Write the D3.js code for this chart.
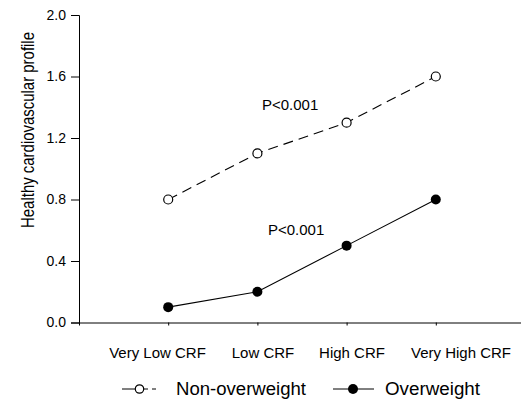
<!DOCTYPE html>
<html>
<head>
<meta charset="utf-8">
<script src="https://cdn.jsdelivr.net/npm/d3@7"></script>
<style>
  body { margin: 0; background: #fff; }
  text { font-family: "Liberation Sans", Arial, sans-serif; fill: #000; }
</style>
</head>
<body>
<div id="chart-area"></div>
<script>
// Chart data
const categories = ["Very Low CRF", "Low CRF", "High CRF", "Very High CRF"];
const nonOverweight = [0.8, 1.1, 1.3, 1.6];
const overweight = [0.1, 0.2, 0.5, 0.8];
const yTicks = [0.0, 0.4, 0.8, 1.2, 1.6, 2.0];

// Set up chart dimensions
const width = 521;
const height = 401;

// category labels sit a bit off their ticks in the original
const labelCenters = [157.5, 263, 352, 461];

const x = d3.scaleLinear().domain([0, 5]).range([79, 525]);
const y = d3.scaleLinear().domain([0, 2]).range([322.5, 15]);

const svg = d3.select("#chart-area")
    .append("svg")
    .attr("width", width)
    .attr("height", height);

// Y axis
const yAxis = svg.append("g")
    .attr("transform", `translate(${x(0)},0)`)
    .call(d3.axisLeft(y).tickValues(yTicks).tickFormat(d3.format(".1f")).tickSizeOuter(0).tickSize(8).tickPadding(5));
yAxis.selectAll("text").style("font-size", "14px");

// X axis (labels placed separately)
const xAxis = svg.append("g")
    .attr("transform", `translate(0,${y(0)})`)
    .call(d3.axisBottom(x).tickValues([1, 2, 3, 4]).tickFormat("").tickSizeOuter(0).tickSize(3));

svg.selectAll(".domain, .tick line").attr("stroke", "#000").attr("stroke-width", 1);

svg.selectAll(".x-label")
    .data(categories)
    .enter()
    .append("text")
    .attr("class", "x-label")
    .attr("x", (d, i) => labelCenters[i])
    .attr("y", 357.5)
    .attr("text-anchor", "middle")
    .style("font-size", "15px")
    .text(d => d);

// Y axis title - glyphs are taller than its length suggests, so squeeze it
svg.append("text")
    .attr("transform", "translate(33.5,130) rotate(-90)")
    .attr("text-anchor", "middle")
    .attr("textLength", 196)
    .attr("lengthAdjust", "spacingAndGlyphs")
    .style("font-size", "19px")
    .text("Healthy cardiovascular profile");

const line = d3.line()
    .x((d, i) => x(i + 1))
    .y(d => y(d));

// Non-overweight series (dashed, open circles)
svg.append("path")
    .datum(nonOverweight)
    .attr("d", line)
    .attr("fill", "none")
    .attr("stroke", "#000")
    .attr("stroke-width", 1.1)
    .attr("stroke-dasharray", "10,6");

svg.selectAll(".open-dot")
    .data(nonOverweight)
    .enter()
    .append("circle")
    .attr("class", "open-dot")
    .attr("cx", (d, i) => x(i + 1))
    .attr("cy", d => y(d))
    .attr("r", 4.5)
    .attr("fill", "#fff")
    .attr("stroke", "#000")
    .attr("stroke-width", 1.2);

// Overweight series (solid, filled circles)
svg.append("path")
    .datum(overweight)
    .attr("d", line)
    .attr("fill", "none")
    .attr("stroke", "#000")
    .attr("stroke-width", 1.1);

svg.selectAll(".fill-dot")
    .data(overweight)
    .enter()
    .append("circle")
    .attr("class", "fill-dot")
    .attr("cx", (d, i) => x(i + 1))
    .attr("cy", d => y(d))
    .attr("r", 5)
    .attr("fill", "#000");

// P-value annotations
svg.append("text")
    .attr("x", 262).attr("y", 110)
    .style("font-size", "15px")
    .text("P<0.001");
svg.append("text")
    .attr("x", 268).attr("y", 235)
    .style("font-size", "15px")
    .text("P<0.001");

// Legend
const leg = svg.append("g");
leg.append("line").attr("x1", 122).attr("x2", 135).attr("y1", 389).attr("y2", 389).attr("stroke", "#000");
leg.append("line").attr("x1", 144).attr("x2", 156).attr("y1", 389).attr("y2", 389)
    .attr("stroke", "#000").attr("stroke-dasharray", "4,4");
leg.append("circle").attr("cx", 139.5).attr("cy", 389).attr("r", 4.2)
    .attr("fill", "#fff").attr("stroke", "#000").attr("stroke-width", 1.2);
leg.append("text").attr("x", 176).attr("y", 395).style("font-size", "18px")
    .attr("textLength", 130).attr("lengthAdjust", "spacingAndGlyphs").text("Non-overweight");

leg.append("line").attr("x1", 333).attr("x2", 374).attr("y1", 389).attr("y2", 389).attr("stroke", "#000");
leg.append("circle").attr("cx", 353).attr("cy", 389).attr("r", 5).attr("fill", "#000");
leg.append("text").attr("x", 385).attr("y", 395).style("font-size", "18px")
    .attr("textLength", 95).attr("lengthAdjust", "spacingAndGlyphs").text("Overweight");
</script>
</body>
</html>
